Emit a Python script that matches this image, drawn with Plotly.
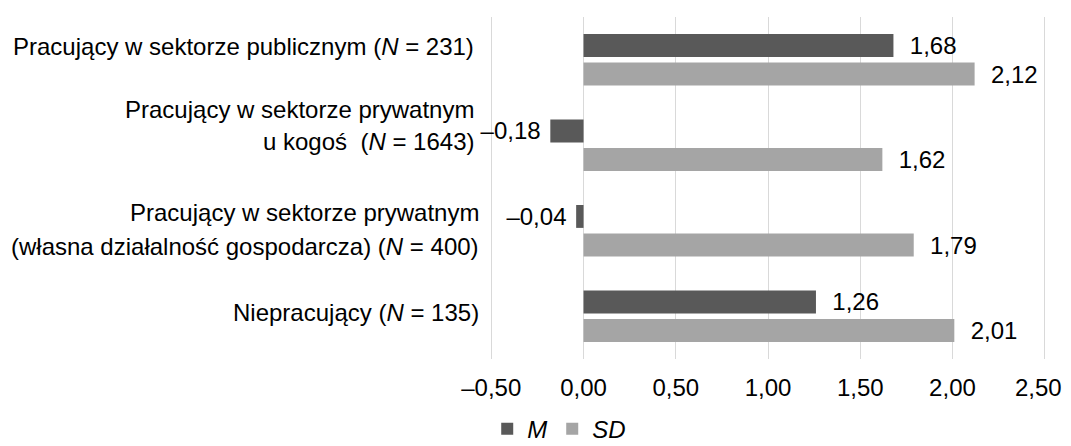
import plotly.graph_objects as go

# ---- data ----
categories = [
    "Pracujący w sektorze publicznym (<i>N</i> = 231)",
    "Pracujący w sektorze prywatnym<br>u kogoś\u00a0\u00a0(<i>N</i> = 1643)",
    "Pracujący w sektorze prywatnym<br>(własna działalność gospodarcza) (<i>N</i> = 400)",
    "Niepracujący (<i>N</i> = 135)",
]
M_values = [1.68, -0.18, -0.04, 1.26]
SD_values = [2.12, 1.62, 1.79, 2.01]
series_names = ["M", "SD"]
x_ticks = [-0.5, 0.0, 0.5, 1.0, 1.5, 2.0, 2.5]

# ---- style ----
FONT = "Liberation Sans, Arial, sans-serif"
FS = 24
COL_M = "#595959"
COL_SD = "#A5A5A5"
GRID = "#D9D9D9"
# per-label line nudges (px, relative to category centre) and right-edge shift
LINE_SHIFTS = [[13], [36, 4], [18, -16], [4]]
X_SHIFTS = [-15, -15, -10, -10]
PAD = 0.007  # small range padding so edge gridlines are drawn


def fmt(v):
    return f"{v:.2f}".replace(".", ",").replace("-", "–")


def bar_text(vals):
    out = []
    for v in vals:
        if v >= 0:
            out.append("\u00a0\u00a0" + fmt(v))
        else:
            out.append(fmt(v) + "\u00a0")
    return out


idx = list(range(len(categories)))

fig = go.Figure()
for name, vals, col in [(series_names[0], M_values, COL_M), (series_names[1], SD_values, COL_SD)]:
    fig.add_trace(go.Bar(
        y=idx, x=vals, orientation="h", name=f"<i>{name}</i>",
        marker=dict(color=col, line=dict(width=0)),
        text=bar_text(vals), textposition="outside", constraintext="none",
        textfont=dict(family=FONT, size=FS, color="#000000"),
        cliponaxis=False,
    ))

# category labels as annotations
for i, lab in enumerate(categories):
    lines = lab.split("<br>")
    for j, line in enumerate(lines):
        fig.add_annotation(
            x=x_ticks[0], y=i, xref="x", yref="y", text=line,
            xanchor="right", yanchor="middle", showarrow=False,
            xshift=X_SHIFTS[i], yshift=LINE_SHIFTS[i][j],
            font=dict(family=FONT, size=FS, color="#000000"),
        )

# all tick labels but the last come from the axis; the last one is an
# annotation at the same axis value, nudged a little so it stays inside the window
tick_text = [fmt(t) for t in x_ticks]
last_label = tick_text[-1]
tick_text[-1] = ""
fig.add_annotation(
    x=x_ticks[-1], y=0, xref="x", yref="paper", text=last_label,
    xanchor="center", yanchor="middle", showarrow=False,
    xshift=-6, yshift=-28,
    font=dict(family=FONT, size=FS, color="#000000"),
)

# page body has an 8px margin, so the figure is sized to end at the window edge
fig.update_layout(
    width=1063, height=438,
    margin=dict(l=482, r=25, t=9, b=87, autoexpand=False),
    paper_bgcolor="white", plot_bgcolor="white",
    barmode="group", bargap=0.33, bargroupgap=0.2,
    font=dict(family=FONT, size=FS, color="#000000"),
    showlegend=True,
    legend=dict(orientation="h", x=-0.005, xanchor="left", y=-0.205, yanchor="middle",
                font=dict(family=FONT, size=FS, color="#000000"),
                traceorder="normal", itemwidth=30),
)
fig.update_xaxes(
    range=[x_ticks[0] - PAD, x_ticks[-1] + PAD], tickvals=x_ticks,
    ticktext=tick_text, automargin=False,
    ticklabeloverflow="allow",
    showgrid=True, gridcolor=GRID, gridwidth=1.3,
    zeroline=True, zerolinecolor=GRID, zerolinewidth=1.3,
    showline=False, ticks="", ticklabelstandoff=12,
    tickfont=dict(family=FONT, size=FS, color="#000000"),
)
fig.update_yaxes(
    type="linear", range=[3.5, -0.5], showticklabels=False, showgrid=False,
    zeroline=False, showline=False, ticks="", automargin=False,
)

fig.write_html("out.html")
